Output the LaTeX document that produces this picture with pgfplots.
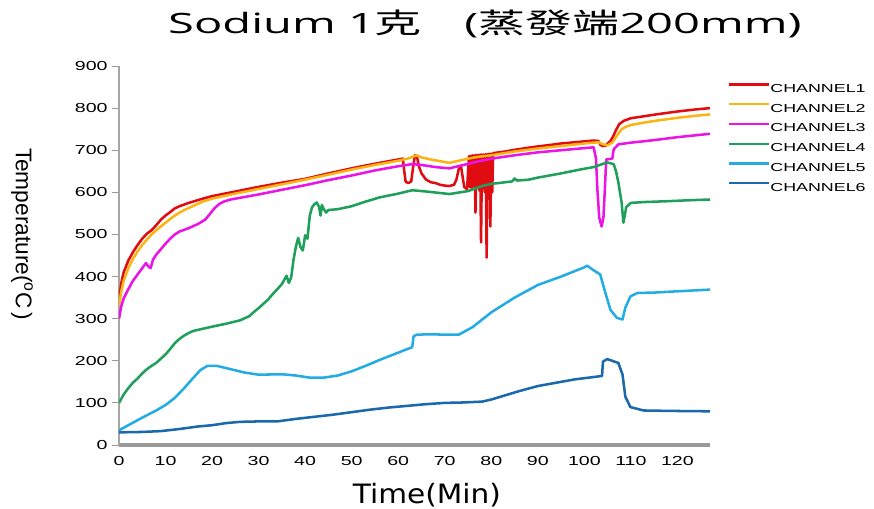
\documentclass[border=0pt]{standalone}
\usepackage{fontspec}
\usepackage{graphicx}
\usepackage{pgfplots}
\pgfplotsset{compat=1.18}
\setmainfont{Liberation Sans}
\newfontfamily\titlefont{Open Sans}
\newfontfamily\cjk{Noto Sans CJK TC}
\newfontfamily\labfont{DejaVu Sans}
\definecolor{c1}{RGB}{225,12,18}
\definecolor{c2}{RGB}{250,180,20}
\definecolor{c3}{RGB}{235,20,230}
\definecolor{c4}{RGB}{30,160,90}
\definecolor{c5}{RGB}{35,172,228}
\definecolor{c6}{RGB}{25,105,172}
\begin{document}
\begin{tikzpicture}
\begin{axis}[
  scale only axis,
  width=443.25pt, height=284.25pt,
  xmin=0, xmax=127, ymin=0, ymax=900,
  xtick={0,10,...,120}, ytick={0,100,...,900},
  axis x line=bottom, axis y line=left,
  axis line style={-},
  x axis line style={line width=3pt, color=black!40},
  y axis line style={line width=0.8pt, color=black!35},
  tick align=outside, major tick length=5pt,
  xtick style={draw=none},
  ytick style={color=black!40, line width=0.6pt},
  /pgf/number format/assume math mode=true,
  ticklabel style={font=\fontsize{9.8}{11}\selectfont},
  xticklabel={\scalebox{1.5}[1]{\pgfmathprintnumber{\tick}}},
  yticklabel={\scalebox{1.5}[1]{\pgfmathprintnumber{\tick}}},
  every axis title shift=0pt,
  title={\scalebox{1.68}[1]{\titlefont\fontsize{21}{24}\selectfont Sodium 1{\cjk 克}\hspace*{0.9em}({\cjk 蒸發端}200mm)}},
  title style={at={(axis description cs:0.619,1.0864)}, anchor=base, inner sep=0pt},
  xlabel={\scalebox{1.11}[1]{\labfont\fontsize{20}{24}\selectfont Time(Min)}},
  xlabel style={at={(axis description cs:0.521,-0.1537)}, anchor=base, inner sep=0pt},
  ylabel={\fontsize{17}{20}\selectfont Temperature(\textsuperscript{o}C\,)},
  ylabel style={at={(axis description cs:-0.1641,0.5567)}, anchor=center, rotate=180, inner sep=0pt},
  legend cell align=left,
  legend style={at={(axis description cs:1.0232,0.975)}, anchor=north west, draw=none, fill=none,
    font=\fontsize{8.7}{10}\selectfont, row sep=0pt,
    nodes={inner sep=0pt, minimum height=14.8pt, text height=6.3pt, text depth=0pt}},
  legend image code/.code={\draw[#1, line width=1.8pt] (0pt,2.8pt) -- (30pt,2.8pt);},
  every axis plot/.append style={line width=1.9pt, line join=round},
]
\addplot[c1] coordinates {(0,345) (0.5,385) (1,410) (2,438) (3,458) (4,475) (5,490) (6,502) (7,510) (8,522) (9,535) (10,545) (11,553) (12,562) (13,567) (15,575) (18,585) (20,591) (25,602) (30,613) (35,623) (40,632) (45,645) (50,657) (55,668) (60,678) (61,680) (61.3,650) (61.6,625) (62.2,622) (62.8,626) (63.2,660) (63.6,688) (64,686) (64.5,660) (65,645) (66,630) (67,624) (68,622) (69,618) (70,616) (71,615) (72,618) (72.5,630) (73,655) (73.5,662) (73.8,640) (74.2,612) (74.8,608) (75.2,686) (75.4,612) (75.6,687) (75.8,610) (76.0,688) (76.2,615) (76.4,688) (76.6,552) (76.8,689) (77.0,612) (77.2,689) (77.4,605) (77.6,690) (77.8,481) (78.0,690) (78.2,610) (78.4,690) (78.6,600) (78.8,691) (79.0,445) (79.2,691) (79.4,608) (79.6,692) (79.8,519) (80.0,692) (80.2,600) (80.4,693) (81,694) (83,697) (85,701) (88,706) (90,709) (93,713) (95,716) (98,719) (100,721) (102,723) (103,722) (103.5,712) (104,710) (104.6,711) (105,716) (105.6,722) (106.2,733) (106.8,748) (107.5,762) (108.5,770) (110,776) (113,781) (116,786) (120,792) (124,797) (127,800)};
\addlegendentry{\scalebox{1.54}[1]{CHANNEL1}}
\addplot[c2] coordinates {(0,330) (0.5,365) (1,390) (2,420) (3,442) (4,460) (5,475) (6,488) (7,500) (8,510) (10,528) (12,545) (14,558) (16,568) (18,578) (20,585) (25,597) (30,608) (35,619) (40,630) (45,642) (50,654) (55,665) (60,675) (62,680) (63,684) (64,688) (65,683) (67,678) (69,674) (71,670) (73,675) (75,680) (77,684) (80,688) (85,697) (90,704) (95,710) (100,716) (103,719) (104,714) (105,712) (106,718) (107,735) (108,750) (109,756) (110,760) (113,766) (116,771) (120,777) (124,782) (127,785)};
\addlegendentry{\scalebox{1.54}[1]{CHANNEL2}}
\addplot[c3] coordinates {(0,300) (0.5,330) (1,348) (2,370) (3,390) (4,405) (5,420) (5.8,432) (6.3,424) (6.8,420) (7.3,440) (8,452) (9,465) (10,478) (11,490) (12,500) (13,507) (15,515) (17,525) (18.5,535) (19.5,548) (20.5,562) (21.5,572) (22.5,578) (24,583) (27,589) (30,595) (35,606) (40,617) (45,629) (50,640) (55,652) (60,662) (63,667) (65,665) (68,660) (71,657) (74,665) (77,673) (80,680) (85,688) (90,695) (95,700) (100,705) (102,707) (102.5,680) (102.8,607) (103.2,540) (103.7,519) (104.1,540) (104.4,607) (104.7,678) (106,680) (106.3,702) (107.3,714) (110,718) (115,724) (120,731) (127,739)};
\addlegendentry{\scalebox{1.54}[1]{CHANNEL3}}
\addplot[c4] coordinates {(0,100) (1,120) (2,135) (3,148) (4,158) (5,170) (6,180) (7,188) (8,195) (9,205) (10,215) (11,228) (12,242) (13,252) (14,260) (15,266) (16,271) (18,276) (20,281) (23,288) (26,296) (28,306) (29,316) (30,325) (31,335) (32,345) (33,358) (34,370) (35,382) (35.5,392) (36,402) (36.5,385) (37,398) (37.5,440) (38,470) (38.5,492) (39,470) (39.5,462) (40,498) (40.5,490) (41,545) (41.5,565) (42,572) (42.5,576) (43,565) (43.3,545) (43.6,570) (44,560) (44.5,552) (45,558) (47,560) (50,567) (53,578) (56,588) (60,597) (63,605) (66,602) (71,596) (75,603) (78,615) (80,620) (84.5,626) (85,633) (85.5,628) (88,630) (90,635) (95,645) (99,654) (102,660) (104.9,671) (106.3,667) (106.8,650) (107.3,624) (108,576) (108.4,528) (109,565) (110,575) (113,577) (118,579) (122,581) (127,583)};
\addlegendentry{\scalebox{1.54}[1]{CHANNEL4}}
\addplot[c5] coordinates {(0,35) (2,47) (5,65) (8,82) (10,95) (12,112) (14,135) (16,160) (17.5,178) (19,188) (21,188) (24,180) (27,172) (30,167) (35,168) (38,165) (41,160) (44,160) (47,165) (50,175) (53,188) (56,202) (59,215) (62,228) (63,232) (63.3,258) (64,262) (67,263) (70,262) (73,262) (76,280) (80,315) (85,350) (90,380) (95,400) (100,422) (100.6,426) (101.7,417) (103.4,405) (104.5,362) (105.6,321) (107,302) (108.2,298) (108.8,326) (109.9,353) (111.4,361) (115,362) (120,365) (127,369)};
\addlegendentry{\scalebox{1.54}[1]{CHANNEL5}}
\addplot[c6] coordinates {(0,30) (5,31) (9,33) (13,38) (17,44) (20,47) (23,52) (26,55) (30,56) (34,56) (38,62) (42,67) (46,72) (50,78) (54,84) (58,89) (62,93) (66,97) (70,100) (74,101) (78,103) (80,108) (83,118) (86,128) (90,140) (94,148) (98,156) (101,160) (103.8,164) (104,198) (104.9,204) (107.3,195) (108.2,167) (108.8,115) (109.9,90) (112.7,82) (118,81) (127,80)};
\addlegendentry{\scalebox{1.54}[1]{CHANNEL6}}
\end{axis}
\pgfresetboundingbox
\path ([shift={(-89.25pt,-47.25pt)}]current axis.south west) rectangle ([shift={(566.25pt,333.75pt)}]current axis.south west);
\end{tikzpicture}
\end{document}
